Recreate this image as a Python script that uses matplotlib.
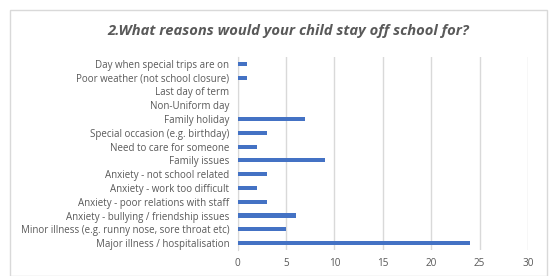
import matplotlib
matplotlib.use('Agg')
import matplotlib.pyplot as plt
from matplotlib.patches import Rectangle

# data, top to bottom as in the chart
reasons = ['Day when special trips are on',
           'Poor weather (not school closure)',
           'Last day of term',
           'Non-Uniform day',
           'Family holiday',
           'Special occasion (e.g. birthday)',
           'Need to care for someone',
           'Family issues',
           'Anxiety - not school related',
           'Anxiety - work too difficult',
           'Anxiety - poor relations with staff',
           'Anxiety - bullying / friendship issues',
           'Minor illness (e.g. runny nose, sore throat etc)',
           'Major illness / hospitalisation']
counts = [1, 1, 0, 0, 7, 3, 2, 9, 3, 2, 3, 6, 5, 24]
xticks = [0, 5, 10, 15, 20, 25, 30]

W, H = 557, 276
fig = plt.figure(figsize=(W/100, H/100), dpi=100)
plt.rcParams['font.family'] = ['Open Sans', 'DejaVu Sans']

# outer chart frame
fig.patches.append(Rectangle((10/W, 0), 537/W, 1-10/H, transform=fig.transFigure,
                             fill=False, edgecolor='#d9d9d9', lw=1))

ax = fig.add_axes([237.5/W, 1-250/H, (528-237.5)/W, (250-57)/H])
ypos = list(range(len(reasons)))[::-1]
ax.barh(ypos, counts, height=0.3, color='#4472C4', zorder=3)
ax.set_xlim(0, 30)
ax.set_ylim(-0.5, len(reasons)-0.5)
ax.set_xticks(xticks)
ax.set_yticks(ypos)
ax.set_yticklabels(reasons, fontsize=7.0, color='#595959')
ax.tick_params(axis='x', labelsize=7.2, labelcolor='#595959', length=0, pad=6)
ax.tick_params(axis='y', length=0, pad=6)
ax.grid(axis='x', color='#d9d9d9', lw=1, zorder=0)
for s in ['top', 'right', 'bottom']:
    ax.spines[s].set_visible(False)
ax.spines['left'].set_color('#d9d9d9')

fig.text(288/W, 1-31/H, '2.What reasons would your child stay off school for?',
         ha='center', va='center', fontsize=10.6, fontweight='bold', fontstyle='italic',
         color='#595959')

fig.savefig('out.png', dpi=100)
